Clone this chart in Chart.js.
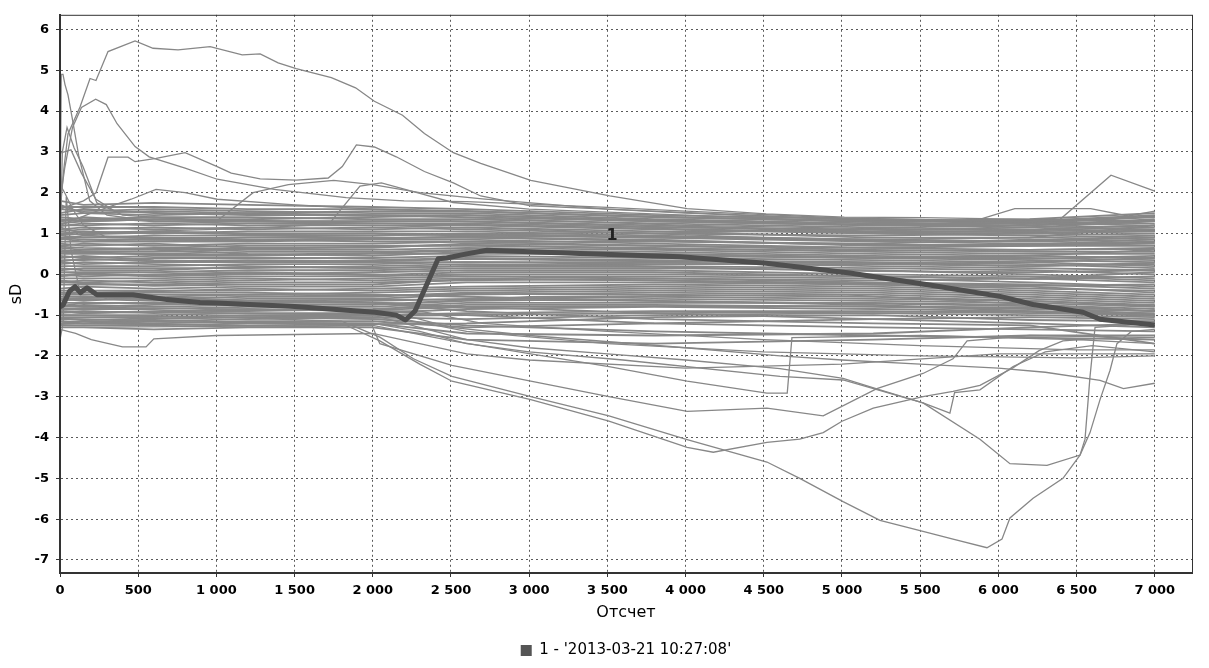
<!DOCTYPE html>
<html><head><meta charset="utf-8">
<script src="https://cdn.jsdelivr.net/npm/chart.js@4/dist/chart.umd.min.js"></script>
<style>html,body{margin:0;padding:0;background:#fff;}canvas{display:block;}</style>
</head><body>
<canvas id="c" width="1209" height="668"></canvas>
<script>
// ---------- axis ticks ----------
const xTickValues = [0,500,1000,1500,2000,2500,3000,3500,4000,4500,5000,5500,6000,6500,7000];
const xTickLabels = ['0','500','1 000','1 500','2 000','2 500','3 000','3 500','4 000','4 500','5 000','5 500','6 000','6 500','7 000'];
const yTickValues = [-7,-6,-5,-4,-3,-2,-1,0,1,2,3,4,5,6];
const yTickLabels = ['-7','-6','-5','-4','-3','-2','-1','0','1','2','3','4','5','6'];
const xRange = [0, 7238];
const yRange = [-7.32, 6.36];

// ---------- highlighted series "1" ----------
const seriesName = "1 - '2013-03-21 10:27:08'";
const seriesLabelText = '1';
const seriesLabelAt = [3530, 0.95];
const hlX = [0,20,60,96,130,173,236,467,684,895,1000,1500,2014,2150,2210,2270,2418,2473,2600,2730,3325,3965,4515,5050,5560,6010,6222,6541,6650,7000];
const hlY = [-0.8,-0.75,-0.42,-0.3,-0.45,-0.33,-0.5,-0.5,-0.62,-0.69,-0.7,-0.79,-0.93,-1.0,-1.12,-0.9,0.38,0.4,0.5,0.59,0.51,0.43,0.27,0.03,-0.26,-0.54,-0.74,-0.93,-1.1,-1.24];

// ---------- dense band of other series ----------
const bandX = [0,150,600,1200,2000,2600,3800,5200,6200,7000];
const bandUpper = [
  [1.8,1.7,1.75,1.7,1.65,1.6,1.45,1.35,1.3,1.45],
  [1.6,1.55,1.6,1.55,1.5,1.5,1.35,1.25,1.25,1.4],
  [1.5,1.6,1.5,1.45,1.45,1.4,1.3,1.2,1.2,1.35],
  [1.4,1.35,1.4,1.4,1.35,1.35,1.25,1.15,1.1,1.2],
  [1.3,1.4,1.3,1.3,1.3,1.3,1.2,1.05,1.05,1.1],
  [1.2,1.2,1.25,1.2,1.2,1.2,1.1,1.0,0.95,1.0],
  [1.1,1.15,1.1,1.15,1.1,1.15,1.05,0.9,0.9,0.95],
  [1.0,1.05,1.0,1.05,1.05,1.05,0.95,0.85,0.8,0.85],
  [0.95,0.9,0.95,0.95,0.95,1.0,0.9,0.8,0.75,0.8],
  [0.9,0.85,0.85,0.9,0.9,0.9,0.85,0.7,0.7,0.7],
  [0.8,0.8,0.8,0.8,0.85,0.85,0.75,0.65,0.6,0.65],
  [0.7,0.75,0.7,0.75,0.75,0.8,0.7,0.6,0.55,0.55],
  [0.65,0.6,0.65,0.7,0.7,0.7,0.65,0.55,0.5,0.5],
  [0.6,0.55,0.55,0.6,0.6,0.65,0.6,0.5,0.45,0.4],
  [1.7,1.5,1.45,1.5,1.55,1.55,1.4,1.3,1.35,1.5],
  [1.25,1.3,1.35,1.35,1.4,1.45,1.3,1.2,1.15,1.3],
  [1.05,1.1,1.15,1.1,1.15,1.1,1.0,0.95,1.0,1.05],
  [0.85,0.95,0.9,0.85,0.8,0.8,0.8,0.75,0.85,0.9],
  [0.75,0.7,0.75,0.65,0.65,0.75,0.7,0.65,0.7,0.75],
  [1.15,1.0,1.05,1.0,1.0,0.95,0.9,0.85,0.9,1.2],
  [1.65,1.65,1.65,1.6,1.6,1.55,1.4,1.3,1.28,1.42],
  [1.45,1.5,1.55,1.5,1.45,1.45,1.32,1.22,1.2,1.32],
  [1.35,1.3,1.35,1.3,1.25,1.25,1.15,1.1,1.08,1.15],
  [1.18,1.25,1.2,1.25,1.25,1.22,1.12,1.02,1.0,1.08],
  [0.98,0.98,1.02,0.98,1.0,0.98,0.92,0.82,0.82,0.9],
  [0.88,0.8,0.88,0.82,0.88,0.92,0.82,0.72,0.72,0.78],
  [0.68,0.65,0.62,0.62,0.68,0.72,0.62,0.58,0.6,0.62]
];
const bandMiddle = [
  [0.5,0.5,0.5,0.55,0.55,0.6,0.55,0.45,0.4,0.35],
  [0.45,0.4,0.45,0.45,0.5,0.5,0.5,0.4,0.35,0.3],
  [0.35,0.35,0.4,0.4,0.4,0.45,0.4,0.35,0.3,0.2],
  [0.3,0.25,0.3,0.3,0.35,0.4,0.35,0.3,0.25,0.15],
  [0.2,0.2,0.2,0.25,0.25,0.3,0.3,0.2,0.15,0.1],
  [0.1,0.15,0.15,0.15,0.2,0.25,0.2,0.15,0.1,0.0],
  [0.05,0.05,0.05,0.1,0.1,0.15,0.15,0.1,0.0,-0.1],
  [-0.05,0.0,-0.05,0.0,0.05,0.1,0.1,0.0,-0.05,-0.15],
  [-0.1,-0.1,-0.1,-0.05,-0.05,0.0,0.0,-0.05,-0.1,-0.2],
  [-0.2,-0.15,-0.2,-0.15,-0.1,-0.05,-0.05,-0.1,-0.2,-0.3],
  [-0.25,-0.25,-0.25,-0.2,-0.2,-0.15,-0.1,-0.2,-0.25,-0.35],
  [-0.35,-0.3,-0.35,-0.3,-0.3,-0.2,-0.2,-0.25,-0.3,-0.45],
  [-0.4,-0.4,-0.4,-0.4,-0.35,-0.3,-0.25,-0.3,-0.4,-0.5],
  [0.4,0.45,0.35,0.3,0.3,0.3,0.25,0.25,0.2,0.25],
  [0.25,0.3,0.25,0.2,0.15,0.2,0.25,0.25,0.3,0.4],
  [0.0,-0.05,0.0,0.05,0.0,-0.05,-0.1,-0.15,-0.1,0.05],
  [-0.15,-0.2,-0.15,-0.1,-0.15,-0.1,-0.15,-0.25,-0.35,-0.4],
  [0.55,0.6,0.6,0.5,0.45,0.55,0.45,0.4,0.45,0.6],
  [0.52,0.55,0.48,0.48,0.52,0.58,0.5,0.42,0.38,0.45],
  [0.32,0.38,0.32,0.35,0.32,0.38,0.32,0.28,0.2,0.28],
  [0.15,0.1,0.1,0.18,0.15,0.2,0.18,0.08,0.05,0.1],
  [-0.02,0.02,-0.02,0.02,-0.02,0.05,0.05,-0.05,-0.12,-0.05],
  [-0.18,-0.22,-0.28,-0.25,-0.25,-0.12,-0.15,-0.22,-0.28,-0.25]
];
const bandLower = [
  [-0.5,-0.5,-0.5,-0.5,-0.45,-0.4,-0.35,-0.4,-0.5,-0.6],
  [-0.55,-0.55,-0.6,-0.55,-0.55,-0.45,-0.4,-0.45,-0.55,-0.65],
  [-0.65,-0.6,-0.65,-0.6,-0.6,-0.5,-0.45,-0.5,-0.6,-0.7],
  [-0.7,-0.7,-0.7,-0.7,-0.65,-0.6,-0.55,-0.6,-0.65,-0.75],
  [-0.8,-0.75,-0.8,-0.75,-0.75,-0.65,-0.6,-0.65,-0.7,-0.8],
  [-0.85,-0.85,-0.85,-0.8,-0.8,-0.7,-0.7,-0.7,-0.75,-0.85],
  [-0.95,-0.9,-0.95,-0.9,-0.85,-0.75,-0.75,-0.8,-0.85,-0.9],
  [-1.0,-1.0,-1.0,-0.95,-0.95,-0.85,-0.8,-0.85,-0.9,-0.95],
  [-1.05,-1.05,-1.05,-1.0,-1.0,-0.95,-0.9,-0.9,-0.95,-1.0],
  [-1.1,-1.1,-1.15,-1.1,-1.05,-1.1,-1.0,-0.95,-1.0,-1.05],
  [-1.2,-1.15,-1.2,-1.15,-1.15,-1.3,-1.2,-1.1,-1.05,-1.1],
  [-1.25,-1.25,-1.25,-1.2,-1.2,-1.45,-1.5,-1.45,-1.3,-1.2],
  [-1.3,-1.3,-1.35,-1.3,-1.3,-1.6,-1.7,-1.6,-1.5,-1.5],
  [-0.45,-0.5,-0.45,-0.45,-0.5,-0.55,-0.65,-0.75,-0.9,-1.0],
  [-0.6,-0.65,-0.55,-0.65,-0.7,-0.8,-0.95,-1.1,-1.2,-1.3],
  [-0.9,-0.95,-0.9,-0.85,-0.9,-1.0,-1.2,-1.3,-1.35,-1.4],
  [-1.15,-1.2,-1.1,-1.05,-1.1,-1.25,-1.4,-1.5,-1.55,-1.6],
  [-0.75,-0.8,-0.75,-0.7,-0.7,-0.9,-1.1,-1.2,-1.25,-1.7],
  [-0.45,-0.45,-0.42,-0.35,-0.4,-0.35,-0.3,-0.35,-0.45,-0.55],
  [-0.6,-0.58,-0.55,-0.5,-0.52,-0.48,-0.5,-0.55,-0.65,-0.78],
  [-0.78,-0.7,-0.72,-0.65,-0.62,-0.62,-0.65,-0.72,-0.78,-0.9],
  [-0.92,-0.95,-0.92,-0.88,-0.88,-0.8,-0.78,-0.78,-0.82,-0.98],
  [-1.08,-1.12,-1.08,-1.05,-1.02,-1.0,-0.95,-0.92,-0.92,-1.02],
  [-1.22,-1.2,-1.22,-1.25,-1.22,-1.2,-1.05,-1.0,-1.12,-1.15]
];

// ---------- individual outlying series, [x, y] ----------
const archTop = [[0,1.5],[25,2.6],[51,3.44],[128,4.1],[192,4.8],[230,4.75],[307,5.46],[480,5.72],[595,5.54],[755,5.5],[960,5.58],[1165,5.38],[1280,5.4],[1395,5.18],[1510,5.04],[1735,4.82],[1890,4.57],[2010,4.24],[2190,3.9],[2330,3.45],[2515,2.98],[2690,2.72],[3010,2.3],[3515,1.92],[4010,1.61],[4515,1.48],[5015,1.4],[5515,1.39],[6000,1.36],[6500,1.33],[7000,1.3]];
const peakFour = [[0,1.8],[30,2.6],[80,3.6],[137,4.09],[228,4.29],[296,4.16],[365,3.69],[480,3.13],[570,2.88],[800,2.6],[1005,2.33],[1370,2.08],[1830,1.88],[2200,1.8],[2600,1.78],[3000,1.72],[3500,1.64],[4000,1.55],[5000,1.38],[6000,1.3],[7000,1.4]];
const plateauThree = [[0,1.6],[150,1.8],[230,2.0],[307,2.87],[435,2.87],[480,2.76],[615,2.84],[800,2.98],[1005,2.64],[1095,2.48],[1280,2.34],[1510,2.31],[1715,2.36],[1805,2.64],[1895,3.17],[2010,3.12],[2150,2.88],[2330,2.52],[2515,2.24],[2690,1.92],[3010,1.68],[3500,1.6],[4000,1.5],[5000,1.35],[6000,1.25],[7000,1.3]];
const humpA = [[0,1.3],[600,1.4],[1000,1.3],[1235,2.0],[1460,2.2],[1750,2.3],[2000,2.2],[2300,2.0],[2700,1.85],[3500,1.6],[5000,1.35],[7000,1.2]];
const humpB = [[0,1.0],[1000,1.1],[1600,1.2],[1735,1.3],[1918,2.16],[2055,2.24],[2283,2.0],[2513,1.76],[3000,1.6],[4000,1.45],[5000,1.3],[6000,1.2],[7000,1.25]];
const humpC = [[0,1.2],[200,1.5],[455,1.84],[614,2.08],[800,2.0],[1005,1.84],[1500,1.7],[2000,1.6],[3000,1.5],[5000,1.3],[7000,1.1]];
const spikeA = [[0,1.2],[8,4.9],[19,4.9],[32,4.65],[51,4.4],[77,3.85],[120,2.9],[190,1.8],[300,1.45],[600,1.3],[1200,1.25],[2000,1.2],[3000,1.1],[4500,0.9],[6000,0.8],[7000,0.95]];
const spikeB = [[0,0.5],[15,3.0],[45,3.6],[90,3.1],[147,2.64],[236,1.75],[400,1.45],[800,1.35],[1500,1.3],[2500,1.3],[4000,1.15],[5500,1.0],[7000,1.05]];
const spikeC = [[0,2.97],[70,3.05],[137,2.48],[230,1.84],[350,1.55],[700,1.5],[1500,1.45],[2500,1.4],[4000,1.2],[5500,1.1],[7000,1.2]];
const spikeD = [[0,2.2],[30,2.0],[80,1.6],[150,1.2],[300,0.9],[1000,0.85],[2500,0.9],[4000,0.8],[6000,0.7],[7000,0.85]];
const spikeE = [[0,-1.6],[20,-1.2],[40,1.9],[70,0.6],[120,-0.3],[300,-0.6],[1200,-0.65],[2200,-0.7],[3000,-0.55],[5000,-0.5],[7000,-0.9]];
const rightPeak = [[0,0.9],[1000,0.9],[2000,0.95],[3000,1.0],[4000,1.05],[5000,1.05],[5800,1.1],[6380,1.3],[6720,2.43],[7000,2.04]];
const rightShelf = [[0,0.8],[1500,0.85],[3000,0.95],[4500,1.05],[5500,1.15],[5890,1.36],[6105,1.61],[6590,1.61],[6830,1.43],[7000,1.55]];
const bottomEdge = [[0,-1.35],[100,-1.45],[200,-1.6],[400,-1.78],[550,-1.78],[600,-1.58],[1000,-1.5],[2000,-1.45],[2300,-1.7],[2600,-1.95],[3000,-2.1],[4000,-2.3],[5000,-2.2],[6000,-1.95],[7000,-1.95]];
const deepDip = [[0,-1.0],[1000,-1.05],[1800,-1.15],[2045,-1.54],[2260,-2.07],[2506,-2.5],[3010,-3.0],[3510,-3.47],[4010,-4.05],[4520,-4.6],[4730,-5.0],[5007,-5.57],[5243,-6.03],[5518,-6.3],[5710,-6.49],[5927,-6.7],[6023,-6.49],[6074,-5.97],[6222,-5.49],[6413,-5.0],[6522,-4.43],[6586,-3.88],[6650,-3.07],[6714,-2.35],[6758,-1.7],[6850,-1.4],[7000,-1.35]];
const dipFour = [[0,-1.1],[1800,-1.2],[2045,-1.63],[2300,-2.2],[2506,-2.62],[3010,-3.07],[3510,-3.6],[4010,-4.24],[4177,-4.36],[4520,-4.12],[4730,-4.04],[4880,-3.88],[5000,-3.6],[5200,-3.28],[5518,-3.0],[5710,-2.87],[5882,-2.72],[6090,-2.3],[6260,-1.87],[6413,-1.63],[6700,-1.55],[7000,-1.6]];
const lateDip = [[0,-0.9],[2000,-1.0],[2300,-1.3],[2600,-1.6],[3000,-1.8],[3500,-1.95],[4000,-2.1],[4604,-2.31],[5007,-2.55],[5243,-2.83],[5518,-3.15],[5882,-4.04],[6074,-4.64],[6311,-4.68],[6522,-4.43],[6554,-4.04],[6586,-2.5],[6618,-1.3],[7000,-1.2]];
const dipThree = [[0,-1.2],[2000,-1.3],[2045,-1.7],[2506,-2.23],[3010,-2.62],[3510,-3.0],[4010,-3.36],[4520,-3.28],[4880,-3.47],[5223,-2.8],[5518,-2.43],[5710,-2.07],[5800,-1.63],[6200,-1.5],[7000,-1.55]];
const jumpA = [[0,-1.3],[2000,-1.25],[2506,-1.63],[3010,-1.95],[3510,-2.26],[4010,-2.62],[4520,-2.91],[4650,-2.91],[4680,-1.55],[5500,-1.5],[6500,-1.6],[7000,-1.7]];
const jumpB = [[0,-1.15],[2000,-1.2],[2300,-1.4],[2600,-1.7],[3000,-1.9],[3600,-2.1],[4604,-2.5],[5007,-2.59],[5518,-3.15],[5690,-3.4],[5720,-2.9],[5882,-2.83],[6094,-2.26],[6300,-1.9],[6600,-1.75],[7000,-1.9]];
const endLow = [[0,-0.9],[2200,-1.0],[2500,-1.3],[3000,-1.5],[4000,-1.8],[4604,-2.0],[5000,-2.1],[5500,-2.2],[6000,-2.3],[6300,-2.4],[6650,-2.6],[6800,-2.8],[7000,-2.67]];
const flatTwo = [[0,-1.0],[2200,-1.1],[2600,-1.4],[3500,-1.7],[4500,-1.9],[5500,-2.0],[6500,-2.05],[7000,-2.0]];
const flatOneEight = [[0,-0.8],[2300,-0.9],[2700,-1.2],[3500,-1.4],[4500,-1.6],[5500,-1.75],[6500,-1.85],[7000,-1.85]];

// ---------- build datasets ----------
const grayColor = '#878787';
function fromXY(xs, ys){ return xs.map((x,i)=>({x:x, y:ys[i]})); }
function fromPairs(p){ return p.map(v=>({x:v[0], y:v[1]})); }
function grayDs(data, w){ return {label:'', data:data, borderColor:grayColor, backgroundColor:grayColor, borderWidth:w, pointRadius:0, tension:0, fill:false, order:1}; }

const datasets = [{
  label: seriesName, data: fromXY(hlX, hlY), borderColor:'#4f4f4f', backgroundColor:'#555',
  borderWidth:5, pointRadius:0, tension:0, fill:false, order:0, borderJoinStyle:'round'
}];
[bandUpper, bandMiddle, bandLower].forEach(g => g.forEach(ys => datasets.push(grayDs(fromXY(bandX, ys), 1.8))));
[archTop, peakFour, plateauThree, humpA, humpB, humpC, spikeA, spikeB, spikeC, spikeD, spikeE,
 rightPeak, rightShelf, bottomEdge, deepDip, dipFour, lateDip, dipThree, jumpA, jumpB, endLow, flatTwo, flatOneEight]
 .forEach(p => datasets.push(grayDs(fromPairs(p), 1.3)));

const framePlugin = {
  id:'frame',
  afterDraw(chart){
    const a = chart.chartArea, ctx = chart.ctx;
    ctx.save(); ctx.strokeStyle = '#333'; ctx.lineWidth = 1;
    ctx.strokeRect(a.left + 0.5, a.top + 0.5, a.right - a.left, a.bottom - a.top);
    ctx.restore();
  }
};
const labelPlugin = {
  id:'seriesLabel',
  afterDatasetsDraw(chart){
    const ctx = chart.ctx, x = chart.scales.x, y = chart.scales.y;
    ctx.save();
    ctx.font = 'bold 16px "DejaVu Sans"'; ctx.fillStyle = '#222';
    ctx.textAlign = 'center'; ctx.textBaseline = 'middle';
    ctx.fillText(seriesLabelText, x.getPixelForValue(seriesLabelAt[0]), y.getPixelForValue(seriesLabelAt[1]));
    ctx.restore();
  }
};

const gridCommon = {color:'#5a5a5a', lineWidth:1, tickLength:4, tickColor:'#333', tickBorderDash:[], tickWidth:1};
const tickFont = {family:'DejaVu Sans', size:13, weight:'bold'};

new Chart(document.getElementById('c'), {
  type:'line',
  data:{datasets:datasets},
  plugins:[framePlugin, labelPlugin],
  options:{
    responsive:false, animation:false, devicePixelRatio:1,
    layout:{padding:{left:0, right:17, top:6, bottom:0}},
    plugins:{
      legend:{
        position:'bottom', fullSize:false,
        labels:{
          boxWidth:11, boxHeight:11, padding:10, color:'#000',
          font:{family:'DejaVu Sans', size:15},
          generateLabels:(chart)=>[{text:chart.data.datasets[0].label, fillStyle:'#555', strokeStyle:'#555', lineWidth:0, hidden:false, datasetIndex:0, fontColor:'#000'}]
        }
      },
      tooltip:{enabled:false}
    },
    scales:{
      x:{
        type:'linear', min:xRange[0], max:xRange[1],
        afterBuildTicks:(s)=>{ s.ticks = xTickValues.map(v=>({value:v})); },
        afterFit:(s)=>{ s.height = 60; },
        ticks:{autoSkip:false, maxRotation:0, padding:6, color:'#000', font:tickFont,
               callback:(v,i)=>xTickLabels[i]},
        grid:gridCommon,
        border:{display:true, color:'#333', width:2, dash:[2,3]},
        title:{display:true, text:'Отсчет', color:'#000', font:{family:'DejaVu Sans', size:16}, padding:{top:0, bottom:11}}
      },
      y:{
        type:'linear', min:yRange[0], max:yRange[1],
        afterBuildTicks:(s)=>{ s.ticks = yTickValues.map(v=>({value:v})); },
        afterFit:(s)=>{ s.width = 60; },
        ticks:{autoSkip:false, padding:7, color:'#000', font:tickFont,
               callback:(v,i)=>yTickLabels[i]},
        grid:gridCommon,
        border:{display:true, color:'#333', width:2, dash:[2,3]},
        title:{display:true, text:'sD', color:'#000', font:{family:'DejaVu Sans', size:16}, padding:{top:7, bottom:0}}
      }
    }
  }
});
</script>
</body></html>
